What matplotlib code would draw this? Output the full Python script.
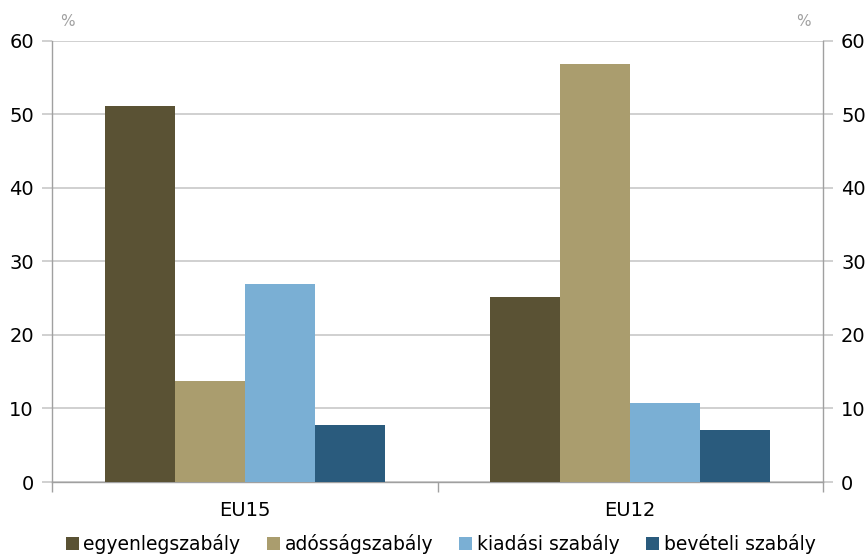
import numpy as np
import matplotlib
matplotlib.use("Agg")
import matplotlib.pyplot as plt

# share of fiscal rules by type, percent
groups = ["EU15", "EU12"]
rule_types = ["egyenlegszabály", "adósságszabály", "kiadási szabály", "bevételi szabály"]
balance_rule = [51.1, 25.1]
debt_rule = [13.7, 56.8]
expenditure_rule = [26.9, 10.7]
revenue_rule = [7.8, 7.0]
yticks = [0, 10, 20, 30, 40, 50, 60]

colors = ["#5a5234", "#aa9d6e", "#7aafd4", "#2a5b7d"]
series = [balance_rule, debt_rule, expenditure_rule, revenue_rule]

plt.rcParams["font.family"] = ["DejaVu Sans"]

fig = plt.figure(figsize=(8.66, 5.56), dpi=100)
ax = fig.add_axes([52 / 866, 1 - 482 / 556, (823 - 52) / 866, (482 - 40.5) / 556])

x = np.arange(len(groups))
w = 0.1816
for i, (vals, col, name) in enumerate(zip(series, colors, rule_types)):
    ax.bar(x + (i - 1.5) * w, vals, w, color=col, label=name, zorder=3)

ax.set_xlim(-0.5, len(groups) - 0.5)
ax.set_ylim(0, 60)
ax.set_yticks(yticks)
ax.grid(axis="y", color="#c8c8c8", linewidth=1.2, zorder=0)
ax.set_axisbelow(True)

ax.set_xticks(x)
ax.set_xticklabels(groups, fontsize=14)
ax.set_xticks(np.arange(len(groups) + 1) - 0.5, minor=True)
ax.tick_params(axis="x", which="major", length=0, pad=14)
ax.tick_params(axis="x", which="minor", length=7, color="#a0a0a0", width=1)
ax.tick_params(axis="y", which="major", length=7, color="#c8c8c8", width=1.2,
               labelsize=14, pad=6, left=True, right=True,
               labelleft=True, labelright=True)

for side in ["left", "right", "bottom"]:
    ax.spines[side].set_color("#a0a0a0")
    ax.spines[side].set_linewidth(1)
ax.spines["top"].set_visible(False)

fig.text(67 / 866, 1 - 22 / 556, "%", fontsize=11, color="#a0a0a0", ha="center", va="center")
fig.text(803 / 866, 1 - 22 / 556, "%", fontsize=11, color="#a0a0a0", ha="center", va="center")

fig.legend(loc="lower center", bbox_to_anchor=(0.5087, -0.027), ncol=4, frameon=False,
           fontsize=13.5, handlelength=0.7, handleheight=0.7, handletextpad=0.25,
           columnspacing=1.39)

fig.savefig("out.png", dpi=100)
